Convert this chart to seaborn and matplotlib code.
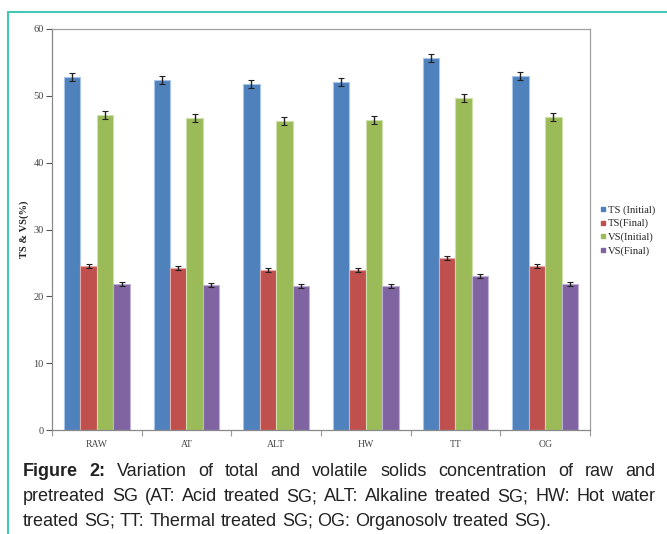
import matplotlib
matplotlib.use("Agg")
import matplotlib.pyplot as plt
from matplotlib.lines import Line2D
from matplotlib.container import BarContainer
import seaborn as sns
import pandas as pd
import numpy as np

categories = ["RAW", "AT", "ALT", "HW", "TT", "OG"]
series_names = ["TS (Initial)", "TS(Final)", "VS(Initial)", "VS(Final)"]
ts_initial = [52.8, 52.3, 51.8, 52.0, 55.6, 53.0]
ts_final = [24.5, 24.2, 24.0, 24.0, 25.7, 24.5]
vs_initial = [47.2, 46.7, 46.2, 46.4, 49.7, 46.9]
vs_final = [21.9, 21.7, 21.5, 21.5, 23.1, 21.8]
ts_initial_err = [0.6, 0.6, 0.6, 0.6, 0.6, 0.6]
ts_final_err = [0.3, 0.3, 0.3, 0.3, 0.3, 0.3]
vs_initial_err = [0.6, 0.6, 0.6, 0.6, 0.6, 0.6]
vs_final_err = [0.3, 0.3, 0.3, 0.3, 0.3, 0.3]
colors = ["#4F81BD", "#C0504D", "#9BBB59", "#8064A2"]
edge_colors = ["#A9C4E6", "#E3A9A7", "#CFE0AD", "#BFB1D3"]

values = [ts_initial, ts_final, vs_initial, vs_final]
errors = [ts_initial_err, ts_final_err, vs_initial_err, vs_final_err]

rows = []
for s, vals, errs in zip(series_names, values, errors):
    for c, v, e in zip(categories, vals, errs):
        rows.append({"Category": c, "Series": s, "Value": v, "Err": e})
df = pd.DataFrame(rows)

sns.set_theme(style="white")
plt.rcParams["font.family"] = ["Liberation Serif", "DejaVu Serif"]

fig = plt.figure(figsize=(6.67, 5.34), dpi=100)
ax = fig.add_axes([52 / 667, 1 - 430 / 534, (590 - 52) / 667, (430 - 29) / 534])

sns.barplot(data=df, x="Category", y="Value", hue="Series", order=categories,
            hue_order=series_names, palette=colors, width=0.735, ax=ax,
            errorbar=None, legend=False, saturation=1)

# color edges and error bars
bar_containers = [c for c in ax.containers if isinstance(c, BarContainer)]
for si, cont in enumerate(bar_containers):
    for p in cont.patches:
        p.set_edgecolor(edge_colors[si])
        p.set_linewidth(0.8)
    xs = [p.get_x() + p.get_width() / 2 for p in cont.patches]
    ys = [p.get_height() for p in cont.patches]
    ax.errorbar(xs, ys, yerr=errors[si], fmt="none", ecolor="#222222",
                elinewidth=1.0, capsize=2, capthick=0.8, zorder=5)

ax.set_ylim(0, 60)
ax.set_xlim(-0.5, 5.5)
ax.set_yticks(range(0, 61, 10))
ax.set_xlabel("")
ax.set_ylabel("TS & VS(%)", fontsize=7.5, fontweight="bold", color="#222222", labelpad=3)
ax.tick_params(axis="y", labelsize=7.5, colors="#555555", length=4, width=0.8,
               direction="out", left=True, pad=2)
ax.tick_params(axis="x", labelsize=7, colors="#555555", length=0, pad=7)
for lab in ax.get_yticklabels() + ax.get_xticklabels():
    lab.set_color("#444444")
ax.set_xticks(np.arange(-0.5, 6, 1.0), minor=True)
ax.tick_params(axis="x", which="minor", length=4, width=0.8, color="#999999",
               direction="out", bottom=True)
for sp in ax.spines.values():
    sp.set_visible(True)
    sp.set_color("#A0A0A0")
    sp.set_linewidth(0.9)
ax.spines["left"].set_color("#888888")
ax.spines["bottom"].set_color("#888888")

# legend
handles = [Line2D([0], [0], marker="s", linestyle="none", markersize=3.5,
                  markerfacecolor=c, markeredgecolor=c) for c in colors]
fig.legend(handles, series_names, loc="upper left",
           bbox_to_anchor=(601 / 667, 1 - 205 / 534), frameon=False,
           fontsize=7.6, handlelength=0.45, handletextpad=0.2, labelspacing=0.4,
           borderaxespad=0, borderpad=0)

# teal frame
teal = "#43C6B5"
fig.add_artist(Line2D([8 / 667, 8 / 667], [0, 1 - 12 / 534], color=teal, lw=1.5,
                      transform=fig.transFigure))
fig.add_artist(Line2D([8 / 667, 1], [1 - 12 / 534, 1 - 12 / 534], color=teal, lw=1.5,
                      transform=fig.transFigure))

# caption with justification
cap_font = ["Liberation Sans", "DejaVu Sans"]
cap_size = 12.95
renderer = fig.canvas.get_renderer()
x_left, x_right = 23, 655

def draw_line(words, y_px, justify=True):
    texts = []
    widths = []
    for w, bold in words:
        t = fig.text(0, 1 - y_px / 534, w, fontsize=cap_size, family=cap_font,
                     fontweight="bold" if bold else "normal", color="#222222",
                     va="baseline", ha="left")
        bb = t.get_window_extent(renderer=renderer)
        texts.append(t)
        widths.append(bb.width)
    total = sum(widths)
    if justify and len(words) > 1:
        gap = (x_right - x_left - total) / (len(words) - 1)
    else:
        sp = fig.text(0, 0, "a b", fontsize=cap_size, family=cap_font)
        w1 = sp.get_window_extent(renderer=renderer).width
        sp.set_text("ab")
        w2 = sp.get_window_extent(renderer=renderer).width
        sp.remove()
        gap = w1 - w2
    x = x_left
    for t, w in zip(texts, widths):
        t.set_x(x / 667)
        x += w + gap

line1 = [("Figure", True), ("2:", True)] + [(w, False) for w in
         "Variation of total and volatile solids concentration of raw and".split()]
line2 = [(w, False) for w in
         "pretreated SG (AT: Acid treated SG; ALT: Alkaline treated SG; HW: Hot water".split()]
line3 = [(w, False) for w in
         "treated SG; TT: Thermal treated SG; OG: Organosolv treated SG).".split()]
draw_line(line1, 476)
draw_line(line2, 501)
draw_line(line3, 526, justify=False)

fig.savefig("out.png", dpi=100)
